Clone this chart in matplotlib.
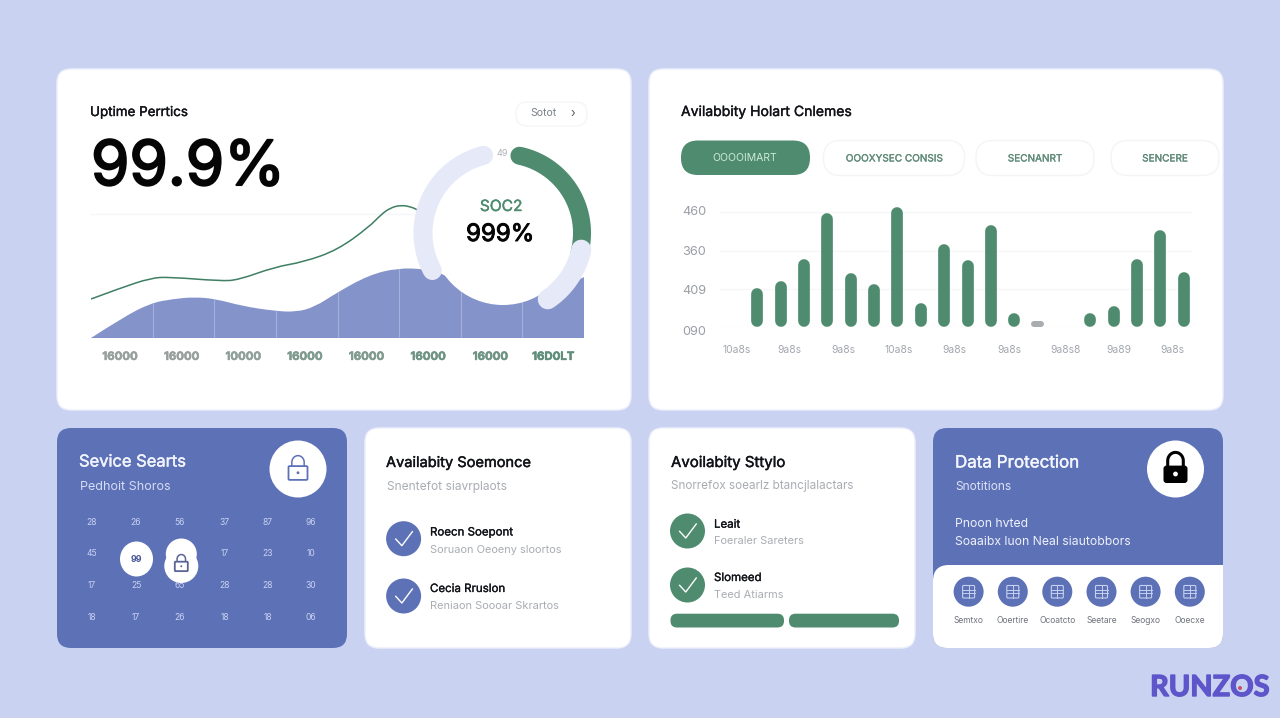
import numpy as np
import matplotlib
matplotlib.use('Agg')
import matplotlib.pyplot as plt
import matplotlib.patheffects as pe
from matplotlib.patches import FancyBboxPatch, PathPatch, Circle, Ellipse
from matplotlib.path import Path
from matplotlib.transforms import ScaledTranslation

BG = '#C9D2F0'
PURPLE = '#5D71B6'
GREEN = '#4E8B6F'
AREA = '#8593CB'
PALE = '#E6E9F7'
GREY = '#A3A7AE'
INK = '#111318'

# uptime chart, x in periods, y in chart units
area_x = [0, 0.5, 0.97, 1.33, 1.68, 2.03, 2.45, 2.98, 3.33, 3.63, 3.98, 4.51, 4.98, 5.41, 5.7, 5.99, 6.96, 7.53, 8]
area_y = [0, 20, 35, 39, 41, 39, 32, 27, 26, 31, 45, 63, 70, 69, 65, 53, 43, 46, 61]
line_x = [0, 0.48, 0.97, 1.27, 2.1, 2.39, 2.98, 3.45, 4.0, 4.51, 4.7, 4.85, 5.03, 5.2, 5.3]
line_y = [39, 50, 60, 61, 57, 58, 71, 76, 88, 111, 123, 130, 133, 131, 128]
period_ticks = [0.47, 1.47, 2.47, 3.47, 4.47, 5.47, 6.48, 7.5]
period_labels = ['16000', '16000', '10000', '16000', '16000', '16000', '16000', '16D0LT']
period_colors = ['#98A09E', '#98A09E', '#8FA09A', '#7F9A8E', '#7F9A8E', '#6F9483', '#6F9483', '#5F8F7C']
separators = [1, 2, 3, 4, 5, 6, 7]

# donut segments in degrees
ring_green = (78, -14)
ring_pale = [(-12, -56), (104, 208)]

# bar chart
bar_x = [0, 1, 2, 3, 4, 5, 6, 7, 8, 9, 10, 11, 12, 14.24, 15.25, 16.24, 17.25, 18.25]
bar_y = [103, 120, 178, 298, 141, 112, 315, 63, 218, 176, 268, 37, 15, 37, 56, 178, 253, 143]
y_ticks = [0, 100, 200, 300]
y_labels = ['090', '409', '360', '460']
x_ticks = [-0.88, 1.35, 3.69, 6.06, 8.45, 10.79, 13.19, 15.5, 17.78]
x_labels = ['10a8s', '9a8s', '9a8s', '10a8s', '9a8s', '9a8s', '9a8s8', '9a89', '9a8s']

pill_labels = ['OOOOIMART', 'OOOXYSEC CONSIS', 'SECNANRT', 'SENCERE']

# calendar grid of the service card
cal_rows = [['28', '26', '56', '37', '87', '96'],
            ['45', '', '', '17', '23', '10'],
            ['17', '25', '65', '28', '28', '30'],
            ['18', '17', '26', '18', '18', '06']]
cal_x = [91.8, 136, 180, 224.6, 267.5, 310.8]
cal_y = [522.7, 553.7, 585, 617]

icon_x = [968.6, 1012.8, 1057.3, 1101.5, 1145.6, 1189.8]
icon_labels = ['Semtxo', 'Ooertire', 'Ocoatcto', 'Seetare', 'Seogxo', 'Ooecxe']

plt.rcParams['font.family'] = ['Inter', 'DejaVu Sans']

fig = plt.figure(figsize=(12.8, 7.18), dpi=100, facecolor=BG)


def px_axes(x0, y0, x1, y1, z):
    ax = fig.add_axes([x0 / 1280, 1 - y1 / 718, (x1 - x0) / 1280, (y1 - y0) / 718], zorder=z)
    ax.patch.set_alpha(0)
    return ax


bg = px_axes(0, 0, 1280, 718, 0)
bg.set_xlim(0, 1280)
bg.set_ylim(718, 0)
bg.axis('off')
fg = px_axes(0, 0, 1280, 718, 3)
fg.set_xlim(0, 1280)
fg.set_ylim(718, 0)
fg.axis('off')


def rbox(ax, x0, y0, x1, y1, r, fc, ec='none', lw=0, z=1):
    p = FancyBboxPatch((x0 + r, y0 + r), x1 - x0 - 2 * r, y1 - y0 - 2 * r,
                       boxstyle='round,pad=%s,rounding_size=%s' % (r, r),
                       fc=fc, ec=ec, lw=lw, zorder=z)
    ax.add_patch(p)
    return p


def txt(x, y, s, size, color=INK, ha='left', stroke=0, **kw):
    t = fg.text(x, y, s, fontsize=size * 0.72, color=color, ha=ha, va='center', **kw)
    if stroke:
        t.set_path_effects([pe.withStroke(linewidth=stroke, foreground=color)])
    return t


def smooth_path(xs, ys):
    verts = [(xs[0], ys[0])]
    codes = [Path.MOVETO]
    for i in range(1, len(xs) - 1):
        verts += [(xs[i], ys[i]), ((xs[i] + xs[i + 1]) / 2, (ys[i] + ys[i + 1]) / 2)]
        codes += [Path.CURVE3, Path.CURVE3]
    verts.append((xs[-1], ys[-1]))
    codes.append(Path.LINETO)
    return verts, codes


def arc(cx, cy, r, a1, a2, color, w, z=3, cap='round'):
    a = np.radians(np.linspace(a1, a2, 80))
    fg.plot(cx + r * np.cos(a), cy - r * np.sin(a), color=color, lw=w * 0.72,
            solid_capstyle=cap, zorder=z)


def lock(cx, cy, s, color, filled=False):
    if filled:
        rbox(fg, cx - s, cy - 0.2 * s, cx + s, cy + 1.25 * s, 0.25 * s, color, z=6)
        fg.add_patch(Circle((cx, cy + 0.5 * s), 0.2 * s, fc='white', ec='none', zorder=7))
    else:
        rbox(fg, cx - s, cy - 0.2 * s, cx + s, cy + 1.25 * s, 0.12 * s, 'white', color, 1.3, z=6)
        fg.add_patch(Circle((cx, cy + 0.5 * s), 0.15 * s, fc=color, ec='none', zorder=7))
    a = np.radians(np.linspace(0, 180, 40))
    xs = np.r_[cx + 0.65 * s, cx + 0.65 * s * np.cos(a), cx - 0.65 * s]
    ys = np.r_[cy - 0.2 * s, cy - 0.6 * s - 0.7 * s * np.sin(a), cy - 0.2 * s]
    fg.plot(xs, ys, color=color, lw=2.2 if filled else 1.1, zorder=5)


def check(cx, cy, r, fc):
    fg.add_patch(Circle((cx, cy), r, fc=fc, ec='none', zorder=4))
    fg.plot([cx - 0.45 * r, cx - 0.1 * r, cx + 0.5 * r], [cy + 0.02 * r, cy + 0.4 * r, cy - 0.4 * r],
            color='white', lw=1.0, zorder=5)


# cards
edge = '#EDF0FC'
rbox(bg, 57, 69, 631, 410, 14, 'white', edge, 1)
rbox(bg, 649, 69, 1223, 410, 14, 'white', edge, 1)
rbox(bg, 57, 428, 347, 648, 14, PURPLE)
rbox(bg, 365, 428, 631, 648, 14, 'white', edge, 1)
rbox(bg, 649, 428, 915, 648, 14, 'white', edge, 1)
card6 = rbox(bg, 933, 428, 1223, 648, 14, PURPLE)
panel = rbox(bg, 933, 565, 1250, 680, 16, 'white', z=2)
panel.set_clip_path(card6)

# uptime card
txt(90, 112, 'Uptime Perrtics', 13.4, stroke=0.25)
rbox(fg, 516, 102, 587, 126, 11, 'white', '#F4F5F8', 1)
txt(543, 113.5, 'Sotot', 10.5, '#7B8088', ha='center')
txt(573, 113.5, '›', 12, '#55595F', ha='center')
txt(91, 169, '99.9%', 62, '#050505', stroke=1.5)
bg.plot([91, 420], [214, 214], color='#F5F6F8', lw=1, zorder=2)

ax = px_axes(91, 198, 584, 338, 1)
ax.set_xlim(0, 8)
ax.set_ylim(0, 140)
v, c = smooth_path(area_x, area_y)
v = v + [(area_x[-1], 0), (area_x[0], 0), (area_x[0], 0)]
c = c + [Path.LINETO, Path.LINETO, Path.CLOSEPOLY]
area_patch = PathPatch(Path(v, c), fc=AREA, ec='none', zorder=1)
ax.add_patch(area_patch)
seps = ax.vlines(separators, 0, 140, color='#A5B0DC', lw=0.8, zorder=2)
seps.set_clip_path(area_patch)
v, c = smooth_path(line_x, line_y)
ax.add_patch(PathPatch(Path(v, c), fc='none', ec='#3F7F63', lw=1.1, zorder=3))
ax.axhline(0, color='#7C8AC6', lw=1, zorder=3)
for s in ax.spines.values():
    s.set_visible(False)
ax.set_yticks([])
ax.set_xticks(period_ticks, period_labels, fontsize=8.2, fontweight='bold')
ax.tick_params(axis='x', length=0, pad=10)
for t, col in zip(ax.get_xticklabels(), period_colors):
    t.set_color(col)
    t.set_path_effects([pe.withStroke(linewidth=0.4, foreground=col)])

# donut
fg.add_patch(Circle((503, 233), 72, fc='white', ec='none', zorder=2))
arc(503, 233, 79, ring_green[0], ring_green[1], GREEN, 18, z=3)
arc(503, 233, 80, ring_pale[0][0], ring_pale[0][1], PALE, 20, z=4)
arc(503, 233, 80, ring_pale[1][0], ring_pale[1][1], PALE, 19, z=4)
txt(502, 154, '49', 9, '#AEB2B8', ha='center', zorder=5)
txt(501, 206.5, 'SOC2', 15.5, '#4E8B6F', ha='center', stroke=0.3)
txt(500, 235, '999%', 24, '#050505', ha='center', stroke=0.7)

# availability card
txt(681, 112, 'Avilabbity Holart Cnlemes', 14, stroke=0.25)
rbox(fg, 681, 140.5, 810, 175, 17, GREEN)
txt(745, 158, pill_labels[0], 10.5, '#CFEADB', ha='center')
pills = [(823.5, 964.5), (976, 1094), (1111, 1219)]
for (x0, x1), lab in zip(pills, pill_labels[1:]):
    rbox(fg, x0, 140.5, x1, 175.5, 17, 'white', '#F3F4F7', 1)
    txt((x0 + x1) / 2, 158.5, lab, 10, '#5F8A78', ha='center', stroke=0.2)

ax = px_axes(720, 200, 1192, 327.3, 1)
ax.set_xlim(-1.6, 18.61)
ax.set_ylim(0, (327.3 - 200) / 38.3 * 100)
half = 5.85 / 38.3 * 100
for gy in y_ticks:
    ax.axhline(gy, color='#F5F6F8', lw=1, zorder=1)
for x, h in zip(bar_x, bar_y):
    if h > 20:
        ax.vlines(x, min(half, h / 2), max(h - half, h / 2), color=GREEN, lw=11.7 * 0.72,
                  capstyle='round', zorder=2, clip_on=False)
    else:
        ax.hlines(h / 2 + 2, x - 0.15, x + 0.15, color='#A9ADB0', lw=6 * 0.72,
                  capstyle='round', zorder=2, clip_on=False)
for s in ax.spines.values():
    s.set_visible(False)
ax.set_yticks(y_ticks, y_labels, fontsize=9.2, color='#9A9EA5')
ax.set_xticks(x_ticks, x_labels, fontsize=7.4, color='#A2A6AD')
ax.tick_params(axis='both', length=0)
ax.tick_params(axis='y', pad=10)
ax.tick_params(axis='x', pad=13)
for t, dy in zip(ax.get_yticklabels(), [-3, -1, 0, 2]):
    t.set_transform(t.get_transform() + ScaledTranslation(0, dy / 100, fig.dpi_scale_trans))

# service card
txt(79, 462, 'Sevice Searts', 16.5, '#F2F4FC', stroke=0.3)
txt(80, 487, 'Pedhoit Shoros', 12.5, '#D5DCF4')
fg.add_patch(Circle((298, 469), 28.5, fc='white', ec='none', zorder=4))
lock(298, 468, 9.5, '#5D71B6')
for row, gy in zip(cal_rows, cal_y):
    for val, gx in zip(row, cal_x):
        txt(gx, gy, val, 8.5, '#C9D3F2', ha='center', zorder=3)
fg.add_patch(Ellipse((136.5, 559), 33, 35, fc='white', ec='none', zorder=4))
txt(136.5, 559, '99', 9, '#4A5A98', ha='center', fontweight='bold', zorder=5)
fg.add_patch(Circle((181.3, 554), 15.5, fc='white', ec='none', zorder=4))
fg.add_patch(Circle((181.3, 566), 17, fc='white', ec='none', zorder=4))
lock(181.3, 563, 6.5, '#5A6496')

# availability text cards
txt(386, 463, 'Availabity Soemonce', 14.6, stroke=0.3)
txt(387, 487, 'Snentefot siavrplaots', 12, '#A9ADB3')
check(403.6, 538.7, 17.5, PURPLE)
check(403.6, 596, 17.5, PURPLE)
txt(430, 532.5, 'Roecn Soepont', 11.5, stroke=0.2)
txt(430, 550, 'Soruaon Oeoeny sloortos', 11, '#A9ADB3')
txt(430, 589, 'Cecia Rruslon', 11.5, stroke=0.2)
txt(430, 606, 'Reniaon Soooar Skrartos', 11, '#A9ADB3')

txt(671, 463, 'Avoilabity Sttylo', 15, stroke=0.3)
txt(671, 486.5, 'Snorrefox soearlz btancjlalactars', 11.7, '#A9ADB3')
check(687.5, 531, 17.5, GREEN)
check(687.5, 585, 17.5, GREEN)
txt(714, 524.7, 'Leait', 11.5, stroke=0.2)
txt(714, 541, 'Foeraler Sareters', 11, '#A9ADB3')
txt(714, 578, 'Slomeed', 11.5, stroke=0.2)
txt(714, 595, 'Teed Atiarms', 11, '#A9ADB3')
rbox(fg, 670.5, 613.7, 784, 627.5, 6.5, GREEN)
rbox(fg, 789, 613.7, 899, 627.5, 6.5, GREEN)

# data protection card
txt(955, 463, 'Data Protection', 17, '#F4F6FD', stroke=0.3)
txt(955, 487, 'Snotitions', 12, '#DDE3F7')
txt(955, 524, 'Pnoon hvted', 12.2, '#EEF1FB')
txt(955, 542, 'Soaaibx luon Neal siautobbors', 12.2, '#EEF1FB')
fg.add_patch(Circle((1175.5, 469), 28.5, fc='white', ec='none', zorder=4))
lock(1175.5, 468, 12, 'black', filled=True)
for gx, lab in zip(icon_x, icon_labels):
    fg.add_patch(Circle((gx, 591.7), 15, fc=PURPLE, ec='none', zorder=4))
    rbox(fg, gx - 6, 585.5, gx + 6, 598, 1, 'none', '#C6D0F0', 0.8, z=5)
    for off in (-2, 1.5):
        fg.plot([gx - 6, gx + 6], [591.7 + off, 591.7 + off], color='#C6D0F0', lw=0.7, zorder=5)
    fg.plot([gx, gx], [585.5, 598], color='#C6D0F0', lw=0.7, zorder=5)
    txt(gx, 620.5, lab, 8.5, '#70747C', ha='center')

# logo
logo = fg.text(1210, 688, 'RUNZOS', fontsize=29 * 0.72, color='#5D55C9', ha='center', va='center',
               fontweight='bold', family='Lato')
logo.set_path_effects([pe.withStroke(linewidth=1.0, foreground='#5D55C9')])
fg.add_patch(Circle((1240, 688), 2, fc='#C0506F', ec='none', zorder=6))

fig.savefig('out.png', dpi=100, facecolor=BG)
